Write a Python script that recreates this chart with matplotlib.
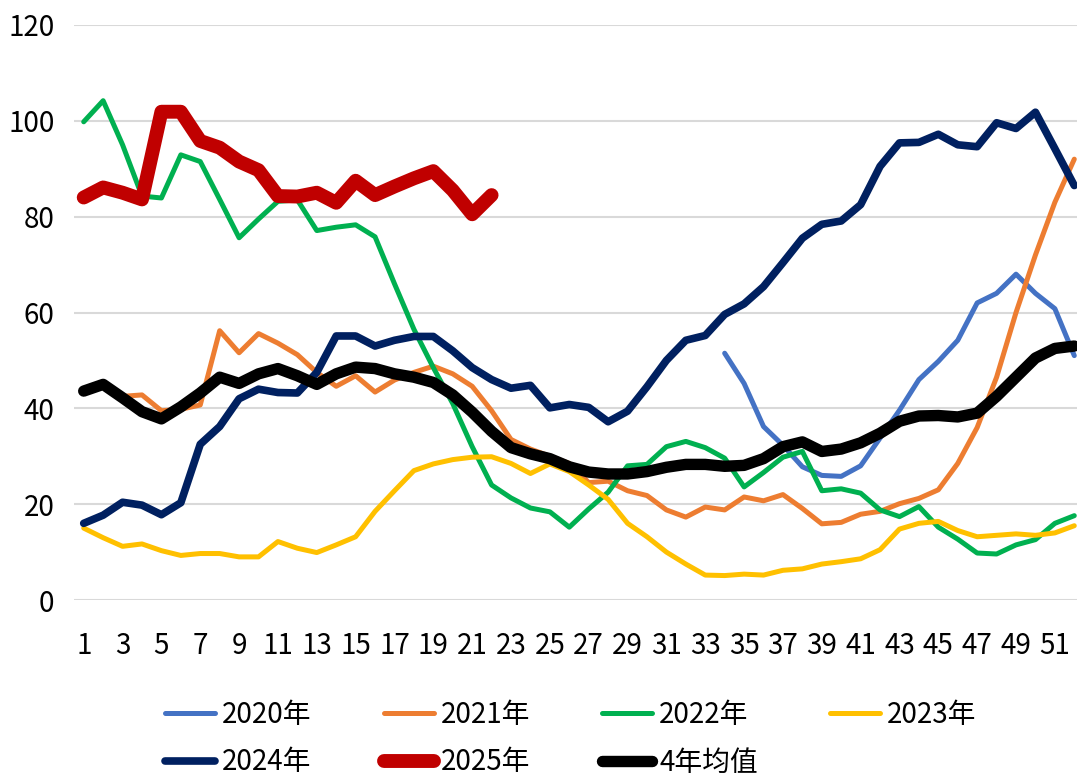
import numpy as np
import matplotlib
matplotlib.use('Agg')
import matplotlib.pyplot as plt

plt.rcParams['font.family'] = ['Noto Sans CJK SC', 'DejaVu Sans']

# weekly values
weeks = np.arange(1, 53)

y2020_weeks = np.arange(34, 53)
y2020 = [51.5, 45.2, 36.2, 32.3, 27.8, 26.0, 25.8, 28.0, 33.8, 39.6,
         46.0, 49.8, 54.2, 62.0, 64.0, 68.0, 64.0, 60.8, 51.0]

y2021 = [43.5, 44.5, 42.5, 42.8, 39.5, 39.8, 40.7, 56.2, 51.6, 55.6,
         53.6, 51.2, 47.5, 44.6, 46.8, 43.4, 45.9, 47.5, 48.8, 47.2,
         44.6, 39.5, 33.5, 31.5, 30.0, 28.5, 24.5, 24.8, 22.8, 21.8,
         18.8, 17.3, 19.4, 18.8, 21.5, 20.7, 22.0, 19.1, 15.9, 16.2,
         17.9, 18.5, 20.1, 21.2, 23.0, 28.5, 36.0, 46.5, 60.0, 72.0,
         83.0, 92.0]

y2022 = [99.8, 104.2, 95.0, 84.3, 83.9, 92.9, 91.5, 83.6, 75.6, 79.5,
         83.2, 83.5, 77.1, 77.8, 78.3, 75.8, 66.0, 56.5, 48.5, 41.0,
         32.0, 24.0, 21.3, 19.2, 18.4, 15.2, 19.0, 22.5, 28.0, 28.3,
         32.0, 33.1, 31.8, 29.6, 23.6, 26.6, 29.8, 31.0, 22.8, 23.2,
         22.3, 18.8, 17.4, 19.5, 15.2, 12.7, 9.8, 9.6, 11.5, 12.6,
         16.0, 17.6]

y2023 = [15.0, 13.0, 11.2, 11.7, 10.3, 9.3, 9.7, 9.7, 9.0, 9.0,
         12.2, 10.8, 9.9, 11.5, 13.2, 18.5, 22.8, 27.0, 28.4, 29.3,
         29.8, 29.9, 28.5, 26.4, 28.4, 26.8, 24.0, 21.0, 16.0, 13.2,
         10.0, 7.5, 5.2, 5.1, 5.4, 5.2, 6.2, 6.5, 7.5, 8.0,
         8.6, 10.5, 14.8, 16.0, 16.4, 14.5, 13.2, 13.5, 13.8, 13.5,
         14.0, 15.5]

y2024 = [16.0, 17.7, 20.4, 19.8, 17.8, 20.3, 32.5, 36.2, 42.0, 44.0,
         43.3, 43.2, 47.5, 55.1, 55.1, 53.0, 54.2, 55.0, 55.0, 52.0,
         48.5, 46.0, 44.2, 44.8, 40.1, 40.8, 40.2, 37.2, 39.4, 44.5,
         50.0, 54.2, 55.2, 59.6, 61.8, 65.4, 70.4, 75.5, 78.4, 79.1,
         82.5, 90.5, 95.4, 95.5, 97.2, 95.0, 94.6, 99.6, 98.4, 101.8,
         94.2, 86.5]

y2025_weeks = np.arange(1, 23)
y2025 = [84.0, 86.1, 85.0, 83.6, 101.9, 101.9, 95.8, 94.4, 91.5, 89.7,
         84.3, 84.2, 85.0, 82.9, 87.5, 84.5, 86.3, 88.0, 89.5, 85.5,
         80.5, 84.5]

avg4 = [43.6, 45.0, 42.2, 39.3, 37.8, 40.3, 43.2, 46.5, 45.2, 47.2,
        48.3, 46.8, 45.0, 47.2, 48.6, 48.3, 47.2, 46.5, 45.4, 42.8,
        39.2, 35.2, 31.8, 30.5, 29.5, 27.8, 26.7, 26.3, 26.3, 26.8,
        27.7, 28.3, 28.3, 27.9, 28.1, 29.5, 32.0, 33.0, 31.0, 31.5,
        32.8, 34.8, 37.3, 38.4, 38.5, 38.2, 39.0, 42.5, 46.5, 50.5,
        52.5, 53.0]

fig = plt.figure(figsize=(10.77, 7.76), dpi=100)
ax = fig.add_axes([74 / 1077, 1 - 600 / 776, 1010 / 1077, 575 / 776])

kw = dict(solid_joinstyle='round', solid_capstyle='round')
l20, = ax.plot(y2020_weeks, y2020, color='#4472C4', lw=3.6, label='2020年', **kw)
l21, = ax.plot(weeks, y2021, color='#ED7D31', lw=3.6, label='2021年', **kw)
l22, = ax.plot(weeks, y2022, color='#00B050', lw=3.6, label='2022年', **kw)
l23, = ax.plot(weeks, y2023, color='#FFC000', lw=3.6, label='2023年', **kw)
l24, = ax.plot(weeks, y2024, color='#002060', lw=5.5, label='2024年', **kw)
l25, = ax.plot(y2025_weeks, y2025, color='#C00000', lw=10, label='2025年', **kw)
lav, = ax.plot(weeks, avg4, color='black', lw=8.2, label='4年均值', **kw)

ax.set_xlim(0.5, 52.5)
ax.set_ylim(0, 120)
ax.set_yticks(range(0, 121, 20))
ax.set_xticks(range(1, 53, 2))
ax.grid(axis='y', color='#D9D9D9', lw=1.5)
ax.set_axisbelow(True)
for s in ax.spines.values():
    s.set_visible(False)
ax.tick_params(axis='both', length=0, labelsize=20)
ax.tick_params(axis='y', pad=14)
ax.tick_params(axis='x', pad=22)

# row-major legend order for 4 columns x 2 rows
handles = [l20, l24, l21, l25, l22, lav, l23]
fig.legend(handles, [h.get_label() for h in handles], ncol=4,
           loc='upper left', bbox_to_anchor=(165 / 1077, 1 - 700 / 776),
           frameon=False, fontsize=20, handlelength=1.8, handletextpad=0.25,
           columnspacing=2.6, labelspacing=0.63, borderpad=0, borderaxespad=0)

fig.savefig('out.png', dpi=100)
